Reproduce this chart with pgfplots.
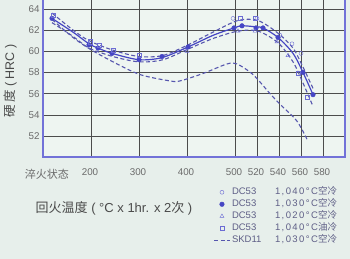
\documentclass[border=0pt]{standalone}
\usepackage{pgfplots}
\pgfplotsset{compat=1.18}
\usepackage{fontspec}
\setmainfont{Liberation Sans}
\newfontfamily\cjk{Noto Sans CJK SC}
\newfontfamily\spaced[LetterSpace=15]{Liberation Sans}
\definecolor{bgcol}{HTML}{E7EFEB}
\definecolor{plotbg}{HTML}{EEF5F1}
\definecolor{framec}{HTML}{7272D8}
\definecolor{linec}{HTML}{4646C4}
\definecolor{dashc}{HTML}{5656AE}
\definecolor{mk}{HTML}{6C6CD4}
\definecolor{tickc}{HTML}{6A6A6A}
\definecolor{labc}{HTML}{4A4A4A}
\definecolor{legc}{HTML}{5E5E86}
\newcommand{\legtxt}[3]{\makebox[43pt][l]{#1}{\spaced #2}{\cjk #3}}
\begin{document}
\begin{tikzpicture}[x=1pt,y=1pt]
\fill[bgcol] (0,0) rectangle (350,259);
\useasboundingbox (0,0) rectangle (350,259);
\begin{axis}[
  at={(43,96)}, anchor=south west,
  width=302pt, height=159pt, scale only axis,
  xmin=0, xmax=302, ymin=50, ymax=65,
  axis background/.style={fill=plotbg},
  axis line style={draw=framec, line width=1.5pt},
  xtick={0,48,96,144,192,214,236,258,280},
  xticklabels={{\hspace*{10pt}\fontsize{11}{11}\selectfont\cjk 淬火状态},200,300,400,500,520,540,560,580},
  ytick={52,54,...,64},
  grid=major, grid style={draw=gray!60!black, line width=0.4pt},
  tick style={draw=none},
  /pgf/number format/assume math mode=true,
  ticklabel style={font=\fontsize{9.8}{10}\selectfont, text=tickc},
  xticklabel style={yshift=-8pt, xshift=-1pt},
  xlabel={{\cjk 回火温度} ( °C x 1hr. x 2{\cjk 次} )},
  xlabel style={at={(axis description cs:-0.036,-0.32)}, anchor=west, font=\fontsize{13}{13}\selectfont, text=labc},
  ylabel={{\cjk 硬\,度} ( HRC )},
  ylabel style={at={(axis description cs:-0.109,0.48)}, anchor=center, font=\fontsize{12.5}{12.5}\selectfont, text=labc},
  legend style={at={(axis description cs:0.562,-0.175)}, anchor=north west, draw=none, fill=none,
    font=\fontsize{9.5}{9.5}\selectfont, text=legc, row sep=0pt, inner sep=1pt,
    nodes={text height=6.4pt, text depth=1.6pt}},
  legend cell align=left,
  legend image code/.code={\draw[mark repeat=2,mark phase=2,#1] plot coordinates {(0pt,0pt)(7.5pt,0pt)(15pt,0pt)};},
]
% band dashed curves
\addplot[dashc, dash pattern=on 4pt off 2.5pt, line width=1.1pt, smooth, forget plot] coordinates {
(9,63.6)(30,62.0)(46,61.0)(70,60.1)(96,59.5)(120,59.6)(145,60.6)(170,61.8)(195,62.9)(215,62.9)(235,61.7)(250,60.3)(260,58.5)(270,56.5)};
\addplot[dashc, dash pattern=on 4pt off 2.5pt, line width=1.1pt, smooth, forget plot] coordinates {
(9,62.7)(30,61.4)(46,60.3)(70,59.5)(96,59.0)(120,59.2)(145,60.2)(170,61.2)(195,61.9)(215,61.9)(235,60.8)(250,59.0)(260,57.0)(270,54.8)};
% solid curve
\addplot[linec, line width=1.2pt, smooth, forget plot] coordinates {
(9,63.1)(30,61.8)(46,60.7)(55,60.3)(69,59.8)(96,59.2)(119,59.4)(145,60.4)(170,61.5)(191,62.2)(199,62.4)(213,62.3)(220,62.2)(235,61.3)(250,59.8)(260,58.0)(270,55.9)};
% DC53 1040 air (open circles)
\addplot[only marks, mark=o, mark size=2pt, mk, mark options={fill=white}] coordinates {
(190,63.1)(214,63.1)(237,61.5)(249,60.7)(258,59.8)};
\addlegendentry{\legtxt{DC53}{1,040°C}{空冷}}
% DC53 1030 air (filled circles)
\addplot[only marks, mark=*, mark size=2.3pt, linec] coordinates {
(9,63.1)(46,60.6)(55,60.3)(69,59.8)(96,59.2)(119,59.5)(145,60.4)(191,62.2)(199,62.4)(213,62.2)(220,62.2)(235,61.3)(260,58.0)(270,55.9)};
\addlegendentry{\legtxt{DC53}{1,030°C}{空冷}}
% DC53 1020 air (triangles)
\addplot[only marks, mark=triangle, mark size=2.3pt, mk, mark options={fill=white}] coordinates {
(144,60.0)(195,61.9)(212,61.9)(234,60.9)(245,59.6)};
\addlegendentry{\legtxt{DC53}{1,020°C}{空冷}}
% DC53 1040 oil (squares)
\addplot[only marks, mark=square, mark size=2.1pt, mk, mark options={fill=white}] coordinates {
(10,63.4)(47,60.9)(56,60.6)(70,60.1)(96,59.6)(197,63.1)(212,63.1)(255,57.9)(264,55.7)};
\addlegendentry{\legtxt{DC53}{1,040°C}{油冷}}
% SKD11 1030 air
\addplot[dashc, dash pattern=on 4pt off 2.5pt, line width=1.1pt, smooth] coordinates {
(9,63.0)(30,61.3)(47,60.2)(70,59.0)(97,57.8)(127,57.2)(137,57.2)(160,57.9)(184,58.8)(194,58.8)(210,57.8)(227,56.0)(237,55.0)(254,53.4)(265,51.5)};
\addlegendentry{\legtxt{SKD11}{1,030°C}{空冷}}
\end{axis}
\end{tikzpicture}
\end{document}
